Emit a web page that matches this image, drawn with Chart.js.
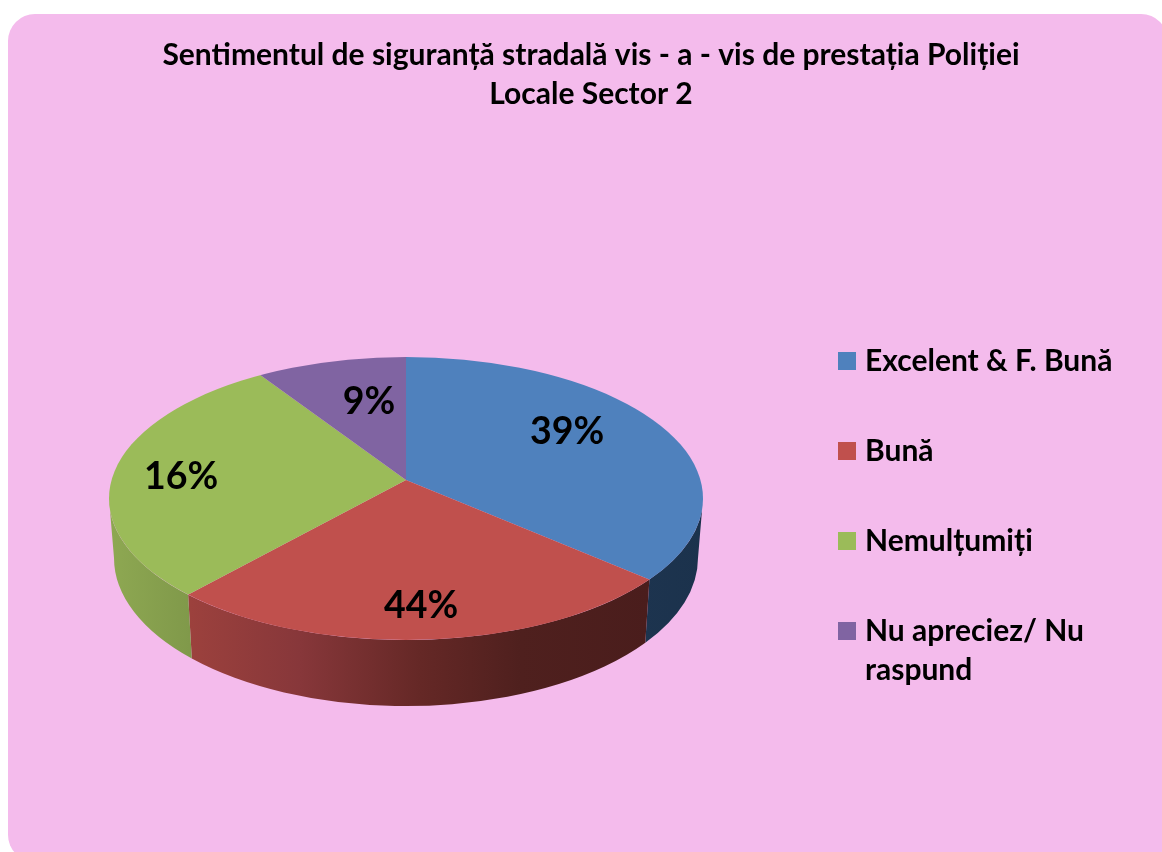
<!DOCTYPE html>
<html><head><meta charset="utf-8">
<script src="https://cdn.jsdelivr.net/npm/chart.js@4"></script>
<style>
html,body{margin:0;padding:0;background:#fff;width:1162px;height:852px;overflow:hidden}
#panel{position:absolute;left:8px;top:14px;width:1160px;height:848px;background:#f4bbec;border-radius:27px}
#c{position:absolute;left:0;top:0}
</style></head><body>
<div id="panel"></div>
<canvas id="c" width="1162" height="852"></canvas>
<script>
const titleLines = ['Sentimentul de siguranță stradală vis - a - vis de prestația Poliției', 'Locale Sector 2'];
const categories = ['Excelent & F. Bună', 'Bună', 'Nemulțumiți', ['Nu apreciez/ Nu', 'raspund']];
const sliceShares = [36.4, 25.2, 29.2, 9.2];
const printedLabels = ['39%', '44%', '16%', '9%'];
const topColors = ['#4f81bd', '#c0504d', '#9bbb59', '#8064a2'];

// drawing layout
const FONT = 'Lato, Carlito, sans-serif';
const APEX = {x: 406, y: 480}, TILT = 0.47;
const TOP = {x: 406, y: 498.5, rx: 297, ry: 141.5};
const BASE = {x: 406, y: 558, rx: 292, ry: 148};
const LABEL_AT = [[567, 432], [421, 606], [181, 477], [369, 402]];
const WALL_STOPS = [
  [[640, '#1d344f'], [705, '#1b324c']],
  [[190, '#9c413d'], [300, '#87373a'], [420, '#652826'], [520, '#4f201e'], [650, '#4a1d1c']],
  [[110, '#8ea852'], [190, '#80994a']],
  [[260, '#5d4976'], [406, '#5d4976']]
];

function edgeAngle(a) {
  const dx = Math.cos(a), dy = TILT * Math.sin(a);
  const ox = (APEX.x - TOP.x) / TOP.rx, oy = (APEX.y - TOP.y) / TOP.ry;
  const ux = dx / TOP.rx, uy = dy / TOP.ry;
  const A = ux * ux + uy * uy, B = 2 * (ox * ux + oy * uy), C = ox * ox + oy * oy - 1;
  const t = (-B + Math.sqrt(B * B - 4 * A * C)) / (2 * A);
  return Math.atan2(oy + t * uy, ox + t * ux);
}

function drawWall(ctx, from, to, stops) {
  const g = ctx.createLinearGradient(0, 0, 1162, 0);
  stops.forEach(([x, c]) => g.addColorStop(x / 1162, c));
  ctx.beginPath();
  ctx.ellipse(TOP.x, TOP.y, TOP.rx, TOP.ry, 0, from, to);
  ctx.ellipse(BASE.x, BASE.y, BASE.rx, BASE.ry, 0, to, from, true);
  ctx.closePath();
  ctx.fillStyle = g;
  ctx.fill();
}

function legendSwatch(color) {
  const s = document.createElement('canvas');
  s.width = 18; s.height = 18;
  const x = s.getContext('2d');
  x.fillStyle = color;
  x.fillRect(0, 0, 18, 18);
  return s;
}

const pie3d = {
  id: 'pie3d',
  beforeDraw(chart) {
    const t = chart.titleBlock, l = chart.legend;
    t.left = 20; t.right = 1162; t.top = 36;
    l.left = 784; l.top = 286;
  },
  beforeDatasetsDraw(chart) {
    const ctx = chart.ctx, meta = chart.getDatasetMeta(0);
    meta.data.forEach((arc, i) => {
      let s = edgeAngle(arc.startAngle), e = edgeAngle(arc.endAngle);
      if (e < s) e += 2 * Math.PI;
      [0, 2 * Math.PI].forEach(off => {
        const a = Math.max(s, off), b = Math.min(e, off + Math.PI);
        if (b > a) drawWall(ctx, a, b, WALL_STOPS[i]);
      });
    });
    const c = meta.data[0];
    ctx.save();
    ctx.beginPath();
    ctx.ellipse(TOP.x, TOP.y, TOP.rx, TOP.ry, 0, 0, 2 * Math.PI);
    ctx.clip();
    ctx.translate(APEX.x, APEX.y);
    ctx.scale(1, TILT);
    ctx.translate(-c.x, -c.y);
    meta.controller.draw();
    ctx.restore();
    ctx.save();
    ctx.fillStyle = '#000';
    ctx.font = 'bold 37.5px ' + FONT;
    ctx.textAlign = 'center';
    ctx.textBaseline = 'middle';
    printedLabels.forEach((t, i) => ctx.fillText(t, LABEL_AT[i][0], LABEL_AT[i][1]));
    ctx.restore();
    return false;
  }
};

new Chart(document.getElementById('c'), {
  type: 'pie',
  plugins: [pie3d],
  data: {
    labels: categories,
    datasets: [{data: sliceShares, backgroundColor: topColors, borderWidth: 0, radius: 1000}]
  },
  options: {
    responsive: false,
    animation: false,
    events: [],
    plugins: {
      tooltip: {enabled: false},
      title: {
        display: true,
        text: titleLines,
        color: '#000',
        font: {family: FONT, weight: 'bold', size: 30, lineHeight: 39 / 30},
        padding: 0
      },
      legend: {
        position: 'right',
        align: 'start',
        labels: {
          color: '#000',
          font: {family: FONT, weight: 'bold', size: 30, lineHeight: 39 / 30},
          usePointStyle: true,
          pointStyleWidth: 6,
          boxHeight: 18,
          padding: 60,
          generateLabels() {
            return categories.map((t, i) => ({text: t, fillStyle: topColors[i], strokeStyle: topColors[i], lineWidth: 0, pointStyle: legendSwatch(topColors[i]), index: i, hidden: false}));
          }
        }
      }
    }
  }
});
</script>
</body></html>
